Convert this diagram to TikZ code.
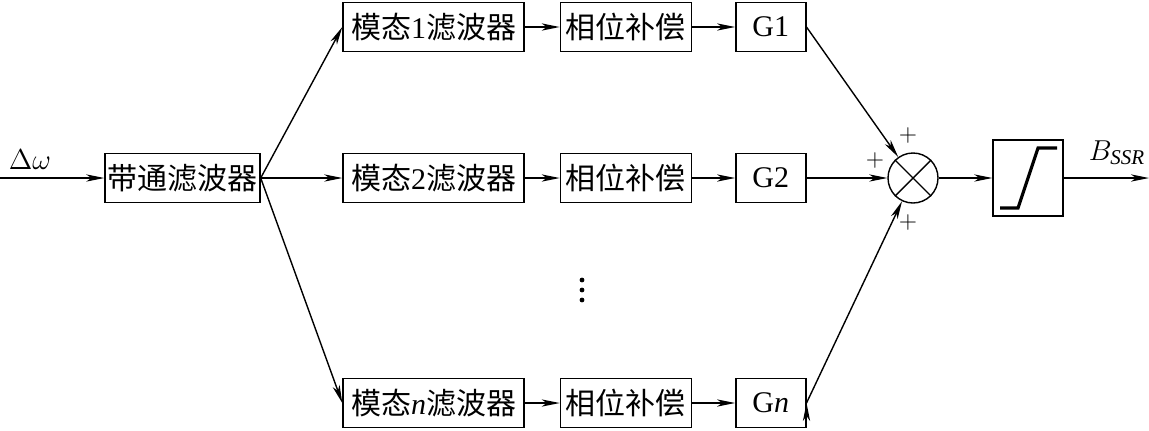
\documentclass[tikz,border=0pt]{standalone}
\usepackage{fontspec}
\setmainfont{Liberation Serif}
\newfontfamily\cjk{Noto Sans CJK SC}
\usetikzlibrary{arrows.meta,positioning}

\begin{document}
\begin{tikzpicture}[x=0.5pt,y=-0.5pt,>={Stealth[length=9pt,width=3.6pt,inset=2.5pt]},line width=0.7pt,
                    every node/.style={font=\fontsize{15}{18}\selectfont},
                    block/.style={draw,minimum height=24.5pt,inner sep=0pt},
                    bpass/.style={block,minimum width=77.5pt},
                    modal/.style={block,minimum width=90.5pt},
                    phase/.style={block,minimum width=65.5pt},
                    gain/.style={block,minimum width=35pt},
                    plus/.style={font=\fontsize{12}{14}\selectfont,inner sep=0pt}]
                  \useasboundingbox (0,0) rectangle (1149,430);

                  \coordinate (in) at (0,178);
                  \node[bpass]  (bp) at (182.5,178) {\cjk 带通滤波器};
                  \node[modal]  (m1) at (433.5,27)  {\cjk 模态\rmfamily 1\cjk 滤波器};
                  \node[modal]  (m2) at (433.5,178) {\cjk 模态\rmfamily 2\cjk 滤波器};
                  \node[modal]  (mn) at (433.5,403) {\cjk 模态\rmfamily\itshape n\cjk\upshape 滤波器};
                  \node[phase]  (p1) [right=17.5pt of m1] {\cjk 相位补偿};
                  \node[phase]  (p2) [right=17.5pt of m2] {\cjk 相位补偿};
                  \node[phase]  (pn) [right=17.5pt of mn] {\cjk 相位补偿};
                  \node[gain]   (g1) [right=21.5pt of p1] {G1};
                  \node[gain]   (g2) [right=21.5pt of p2] {G2};
                  \node[gain]   (gn) [right=21.5pt of pn] {G\textit{n}};
                  \node[draw,circle,minimum size=25pt,inner sep=0pt] (sum) at (913,178) {};
                  \node[block,minimum width=35pt,minimum height=38pt] (lim) at (1028,178) {};
                  \coordinate (out) at (1149,178);

                  % labels
                  \node (dw)  at (30,160)   {$\Delta\omega$};
                  \node (bss) at (1117,153) {$B_{\mathit{SSR}}$};
                  \node[plus] (pl1) at (908,135) {$+$};
                  \node[plus] (pl2) at (875,160) {$+$};
                  \node[plus] (pl3) at (908,222) {$+$};

                  % dots
                  \foreach \y in {280,290,300}
                      \fill (582,\y) circle (1.2pt);

                  % junction cross and limiter curve
                  \draw (sum.north west) -- (sum.south east)
                        (sum.north east) -- (sum.south west);
                  \draw[line width=1.6pt] ([shift={(-28,30)}]lim.center) -- ([shift={(-10,30)}]lim.center)
                        -- ([shift={(10,-30)}]lim.center) -- ([shift={(29,-30)}]lim.center);

                  \draw[->] 
                           (in) edge (bp)
                           (bp.east) edge (m1.west)
                                     edge (m2.west)
                                     edge (mn.west)
                           (m1) edge (p1)
                           (m2) edge (p2)
                           (mn) edge (pn)
                           (p1) edge (g1)
                           (p2) edge (g2)
                           (pn) edge (gn)
                           (g1.east) edge (sum)
                           (g2.east) edge (sum)
                           (gn.east) edge (sum)
                           (sum) edge (lim)
                           (lim) edge (out);
\end{tikzpicture}
\end{document}
